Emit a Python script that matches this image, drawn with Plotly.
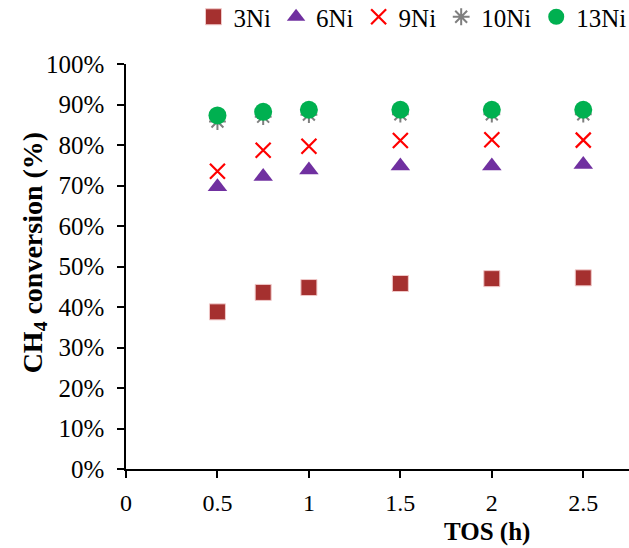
import plotly.graph_objects as go

tos = [0.5, 0.75, 1.0, 1.5, 2.0, 2.5]
ni3 = [38.8, 43.6, 44.8, 45.8, 47.0, 47.2]
ni6 = [69.7, 72.2, 73.8, 74.8, 74.8, 75.2]
ni9 = [73.5, 78.7, 79.7, 81.1, 81.3, 81.2]
ni10 = [85.8, 87.0, 87.5, 87.6, 87.6, 87.6]
ni13 = [87.3, 88.2, 88.7, 88.7, 88.7, 88.7]

FONT = "Liberation Serif, Times New Roman, serif"

fig = go.Figure()
fig.add_trace(go.Scatter(x=tos, y=ni3, mode="markers", name="3Ni",
                         marker=dict(symbol="square", size=16, color="#A5302F",
                                     line=dict(width=1, color="#F0C8C8"))))
fig.add_trace(go.Scatter(x=tos, y=ni6, mode="markers", name="6Ni",
                         marker=dict(symbol="triangle-up", size=17, color="#7030A0")))
fig.add_trace(go.Scatter(x=tos, y=ni9, mode="markers", name="9Ni",
                         marker=dict(symbol="x-thin-open", size=15, color="#FF0000",
                                     line=dict(width=2.2, color="#FF0000"))))
fig.add_trace(go.Scatter(x=tos, y=ni10, mode="markers", name="10Ni",
                         marker=dict(symbol="asterisk-open", size=14, color="#7F7F7F",
                                     line=dict(width=2, color="#7F7F7F"))))
fig.add_trace(go.Scatter(x=tos, y=ni13, mode="markers", name="13Ni",
                         marker=dict(symbol="circle", size=18, color="#00B050")))

fig.update_layout(
    width=629, height=548,
    margin=dict(l=126, r=0, t=64, b=79, autoexpand=False),
    plot_bgcolor="white", paper_bgcolor="white",
    font=dict(family=FONT, size=25, color="black"),
    showlegend=True,
    legend=dict(orientation="h", x=1.005, xanchor="right", y=1.116, yanchor="middle",
                font=dict(size=25), itemwidth=30, tracegroupgap=0,
                bgcolor="rgba(0,0,0,0)"),
    xaxis=dict(range=[0, 2.75], dtick=0.5, tick0=0, showgrid=False, zeroline=False,
               showline=True, linecolor="black", linewidth=1.5,
               ticks="outside", ticklen=7, tickwidth=1.5, tickcolor="black",
               tickfont=dict(size=24), ticklabelstandoff=4),
    yaxis=dict(range=[0, 100], dtick=10, ticksuffix="%", showgrid=False, zeroline=False,
               showline=True, linecolor="black", linewidth=1.5,
               ticks="outside", ticklen=7, tickwidth=1.5, tickcolor="black",
               tickfont=dict(size=25), ticklabelstandoff=8),
    annotations=[
        dict(text="<b>TOS (h)</b>", xref="paper", yref="paper",
             x=0.718, y=-0.156, xanchor="center", yanchor="middle",
             showarrow=False, font=dict(size=25)),
        dict(text="<b>CH<sub>4</sub> conversion (%)</b>", xref="paper", yref="paper",
             x=-0.182, y=0.536, xanchor="center", yanchor="middle", textangle=-90,
             showarrow=False, font=dict(size=28)),
    ],
)

fig.write_html("out.html")
